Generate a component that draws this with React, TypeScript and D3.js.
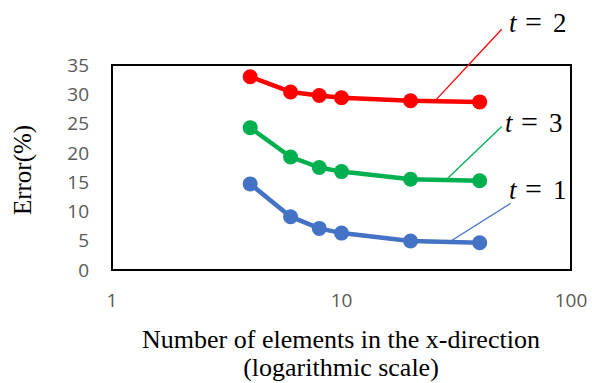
import React from 'react';
import * as d3 from 'd3';

// elements in the x-direction
const elements = [4, 6, 8, 10, 20, 40];

// error (%) for each time step
const errorT1 = [14.7, 9.1, 7.1, 6.3, 4.95, 4.65];
const errorT2 = [33.0, 30.4, 29.8, 29.4, 28.9, 28.7];
const errorT3 = [24.3, 19.3, 17.5, 16.8, 15.5, 15.25];

const yTicks = [0, 5, 10, 15, 20, 25, 30, 35];
const xTicks = [1, 10, 100];

// label callouts, given in data units
const callouts = [
  { name: '2', color: '#FF0000', values: errorT2, fromX: 25.5, toX: 49.9, toY: 41.1, textX: 53.7, textY: 40.6 },
  { name: '3', color: '#00B050', values: errorT3, fromX: 28.5, toX: 49.9, toY: 24.5, textX: 51.6, textY: 23.6 },
  { name: '1', color: '#4472C4', values: errorT1, fromX: 29.5, toX: 54.6, toY: 11.4, textX: 53.7, textY: 12.1 },
];

const W = 592;
const H = 383;
const margin = { top: 65, right: 21, bottom: 113, left: 112 };

export default function App() {
  const x = d3.scaleLog().domain([1, 100]).range([margin.left, W - margin.right]);
  const y = d3.scaleLinear().domain([0, 35]).range([H - margin.bottom, margin.top]);

  const line = d3
    .line<number>()
    .x((_, i) => x(elements[i]))
    .y((d) => y(d));

  const series = [
    { values: errorT2, color: '#FF0000' },
    { values: errorT3, color: '#00B050' },
    { values: errorT1, color: '#4472C4' },
  ];

  // value on a series at an x between the points (log-linear, like the drawn segment)
  const interp = (vals: number[], xv: number) => {
    const lx = Math.log10(xv);
    for (let i = 0; i < elements.length - 1; i++) {
      const a = Math.log10(elements[i]);
      const b = Math.log10(elements[i + 1]);
      if (lx >= a && lx <= b) {
        const t = (lx - a) / (b - a);
        return vals[i] + t * (vals[i + 1] - vals[i]);
      }
    }
    return vals[vals.length - 1];
  };

  const tickFont = "'Open Sans', 'Noto Sans', sans-serif";
  const serif = "'Liberation Serif', 'Times New Roman', serif";

  return (
    <svg width={W} height={H} style={{ position: 'absolute', left: 0, top: 0 }}>
      <rect x={0} y={0} width={W} height={H} fill="#fff" />
      {/* plot frame */}
      <rect
        x={x(1)}
        y={y(35)}
        width={x(100) - x(1)}
        height={y(0) - y(35)}
        fill="none"
        stroke="#000"
        strokeWidth={2}
      />

      {/* y tick labels */}
      {yTicks.map((t) => (
        <text
          key={t}
          x={89}
          y={y(t)}
          dy="0.35em"
          textAnchor="end"
          fontFamily={tickFont}
          fontSize={19}
          fill="#595959"
        >
          {t}
        </text>
      ))}

      {/* x tick labels */}
      {xTicks.map((t) => (
        <text
          key={t}
          x={x(t)}
          y={300}
          dy="0.35em"
          textAnchor="middle"
          fontFamily={tickFont}
          fontSize={19}
          fill="#595959"
        >
          {t}
        </text>
      ))}

      {/* series lines */}
      {series.map((s, i) => (
        <path
          key={'l' + i}
          d={line(s.values) || ''}
          fill="none"
          stroke={s.color}
          strokeWidth={4.5}
          strokeLinejoin="round"
        />
      ))}
      {series.map((s, i) =>
        s.values.map((v, j) => (
          <circle key={`p${i}-${j}`} cx={x(elements[j])} cy={y(v)} r={7.5} fill={s.color} />
        ))
      )}

      {/* callouts */}
      {callouts.map((c) => {
        const x0 = x(c.fromX);
        const y0 = y(interp(c.values, c.fromX));
        const x1 = x(c.toX);
        const y1 = y(c.toY);
        const tx = x(c.textX);
        const ty = y(c.textY);
        return (
          <g key={c.name} fontFamily={serif} fontSize={27} fill="#000">
            <line x1={x0} y1={y0} x2={x1} y2={y1} stroke={c.color} strokeWidth={1.3} />
            <text x={tx} y={ty} fontStyle="italic">t</text>
            <text x={tx + 16} y={ty} fontSize={30}>=</text>
            <text x={tx + 44} y={ty}>{c.name}</text>
          </g>
        );
      })}

      {/* axis titles */}
      <text
        transform={`translate(31, ${170}) rotate(-90)`}
        textAnchor="middle"
        fontFamily={serif}
        fontSize={25}
        fill="#000"
      >
        Error(%)
      </text>
      <text x={341} y={348} textAnchor="middle" fontFamily={serif} fontSize={26} fill="#000">
        Number of elements in the x-direction
      </text>
      <text x={341} y={376} textAnchor="middle" fontFamily={serif} fontSize={26} fill="#000">
        (logarithmic scale)
      </text>
    </svg>
  );
}
